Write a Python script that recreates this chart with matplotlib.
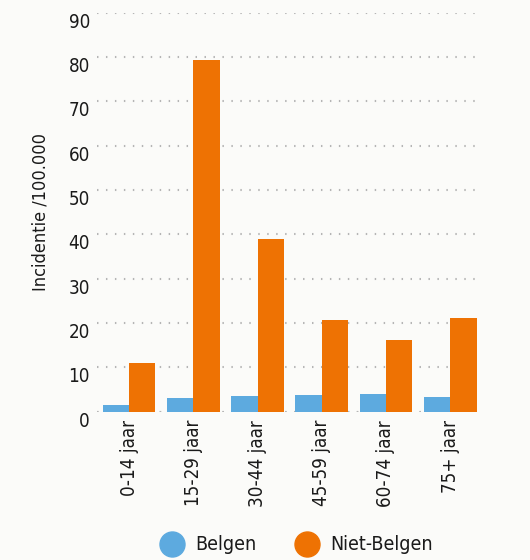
import matplotlib
matplotlib.use('Agg')
import matplotlib.pyplot as plt
from matplotlib.lines import Line2D
import numpy as np

categories = ['0-14 jaar', '15-29 jaar', '30-44 jaar', '45-59 jaar', '60-74 jaar', '75+ jaar']
belgen = [1.5, 3.1, 3.5, 3.8, 4.0, 3.3]
niet_belgen = [11.0, 79.3, 39.0, 20.7, 16.2, 21.2]
series_names = ['Belgen', 'Niet-Belgen']
colors = ['#5DAADF', '#EE7203']

plt.rcParams['font.family'] = ['DejaVu Sans']
plt.rcParams['font.stretch'] = 'condensed'
txt = '#1a1a1a'

fig = plt.figure(figsize=(5.3, 5.6), dpi=100)
fig.patch.set_facecolor('#FBFBF9')
ax = fig.add_axes([0.183, 0.265, 0.727, 0.712])
ax.set_facecolor('#FBFBF9')

x = np.arange(len(categories))
w = 0.41
ax.bar(x - w / 2, belgen, w, color=colors[0], zorder=3)
ax.bar(x + w / 2, niet_belgen, w, color=colors[1], zorder=3)

ax.set_xlim(-0.5, len(categories) - 0.5)
ax.set_ylim(0, 90)
ax.set_yticks(range(0, 91, 10))
dots = (0, (0.7, 3.6))
ax.yaxis.grid(True, linestyle=dots, color='#B5B5B5', linewidth=1.5, zorder=0)
ax.set_axisbelow(True)
for s in ax.spines.values():
    s.set_visible(False)
ax.axhline(0, linestyle=dots, color='#B5B5B5', linewidth=1.5, zorder=1)

ax.set_xticks(x)
ax.set_xticklabels(categories, rotation=90)
ax.tick_params(axis='both', length=0, labelsize=13.5, colors=txt)
ax.tick_params(axis='x', pad=6)
ax.tick_params(axis='y', pad=5)
for lbl in ax.get_yticklabels():
    lbl.set_verticalalignment('top')

ax.set_ylabel('Incidentie /100.000', fontsize=13, color=txt, labelpad=14)

handles = [Line2D([0], [0], marker='o', linestyle='', markersize=18,
                  markerfacecolor=c, markeredgecolor=c) for c in colors]
fig.legend(handles, series_names, loc='center', bbox_to_anchor=(0.553, 0.027),
           ncol=2, frameon=False, fontsize=14, handletextpad=0.2, columnspacing=1.6,
           labelcolor=txt)

fig.savefig('out.png', dpi=100, facecolor=fig.get_facecolor())
